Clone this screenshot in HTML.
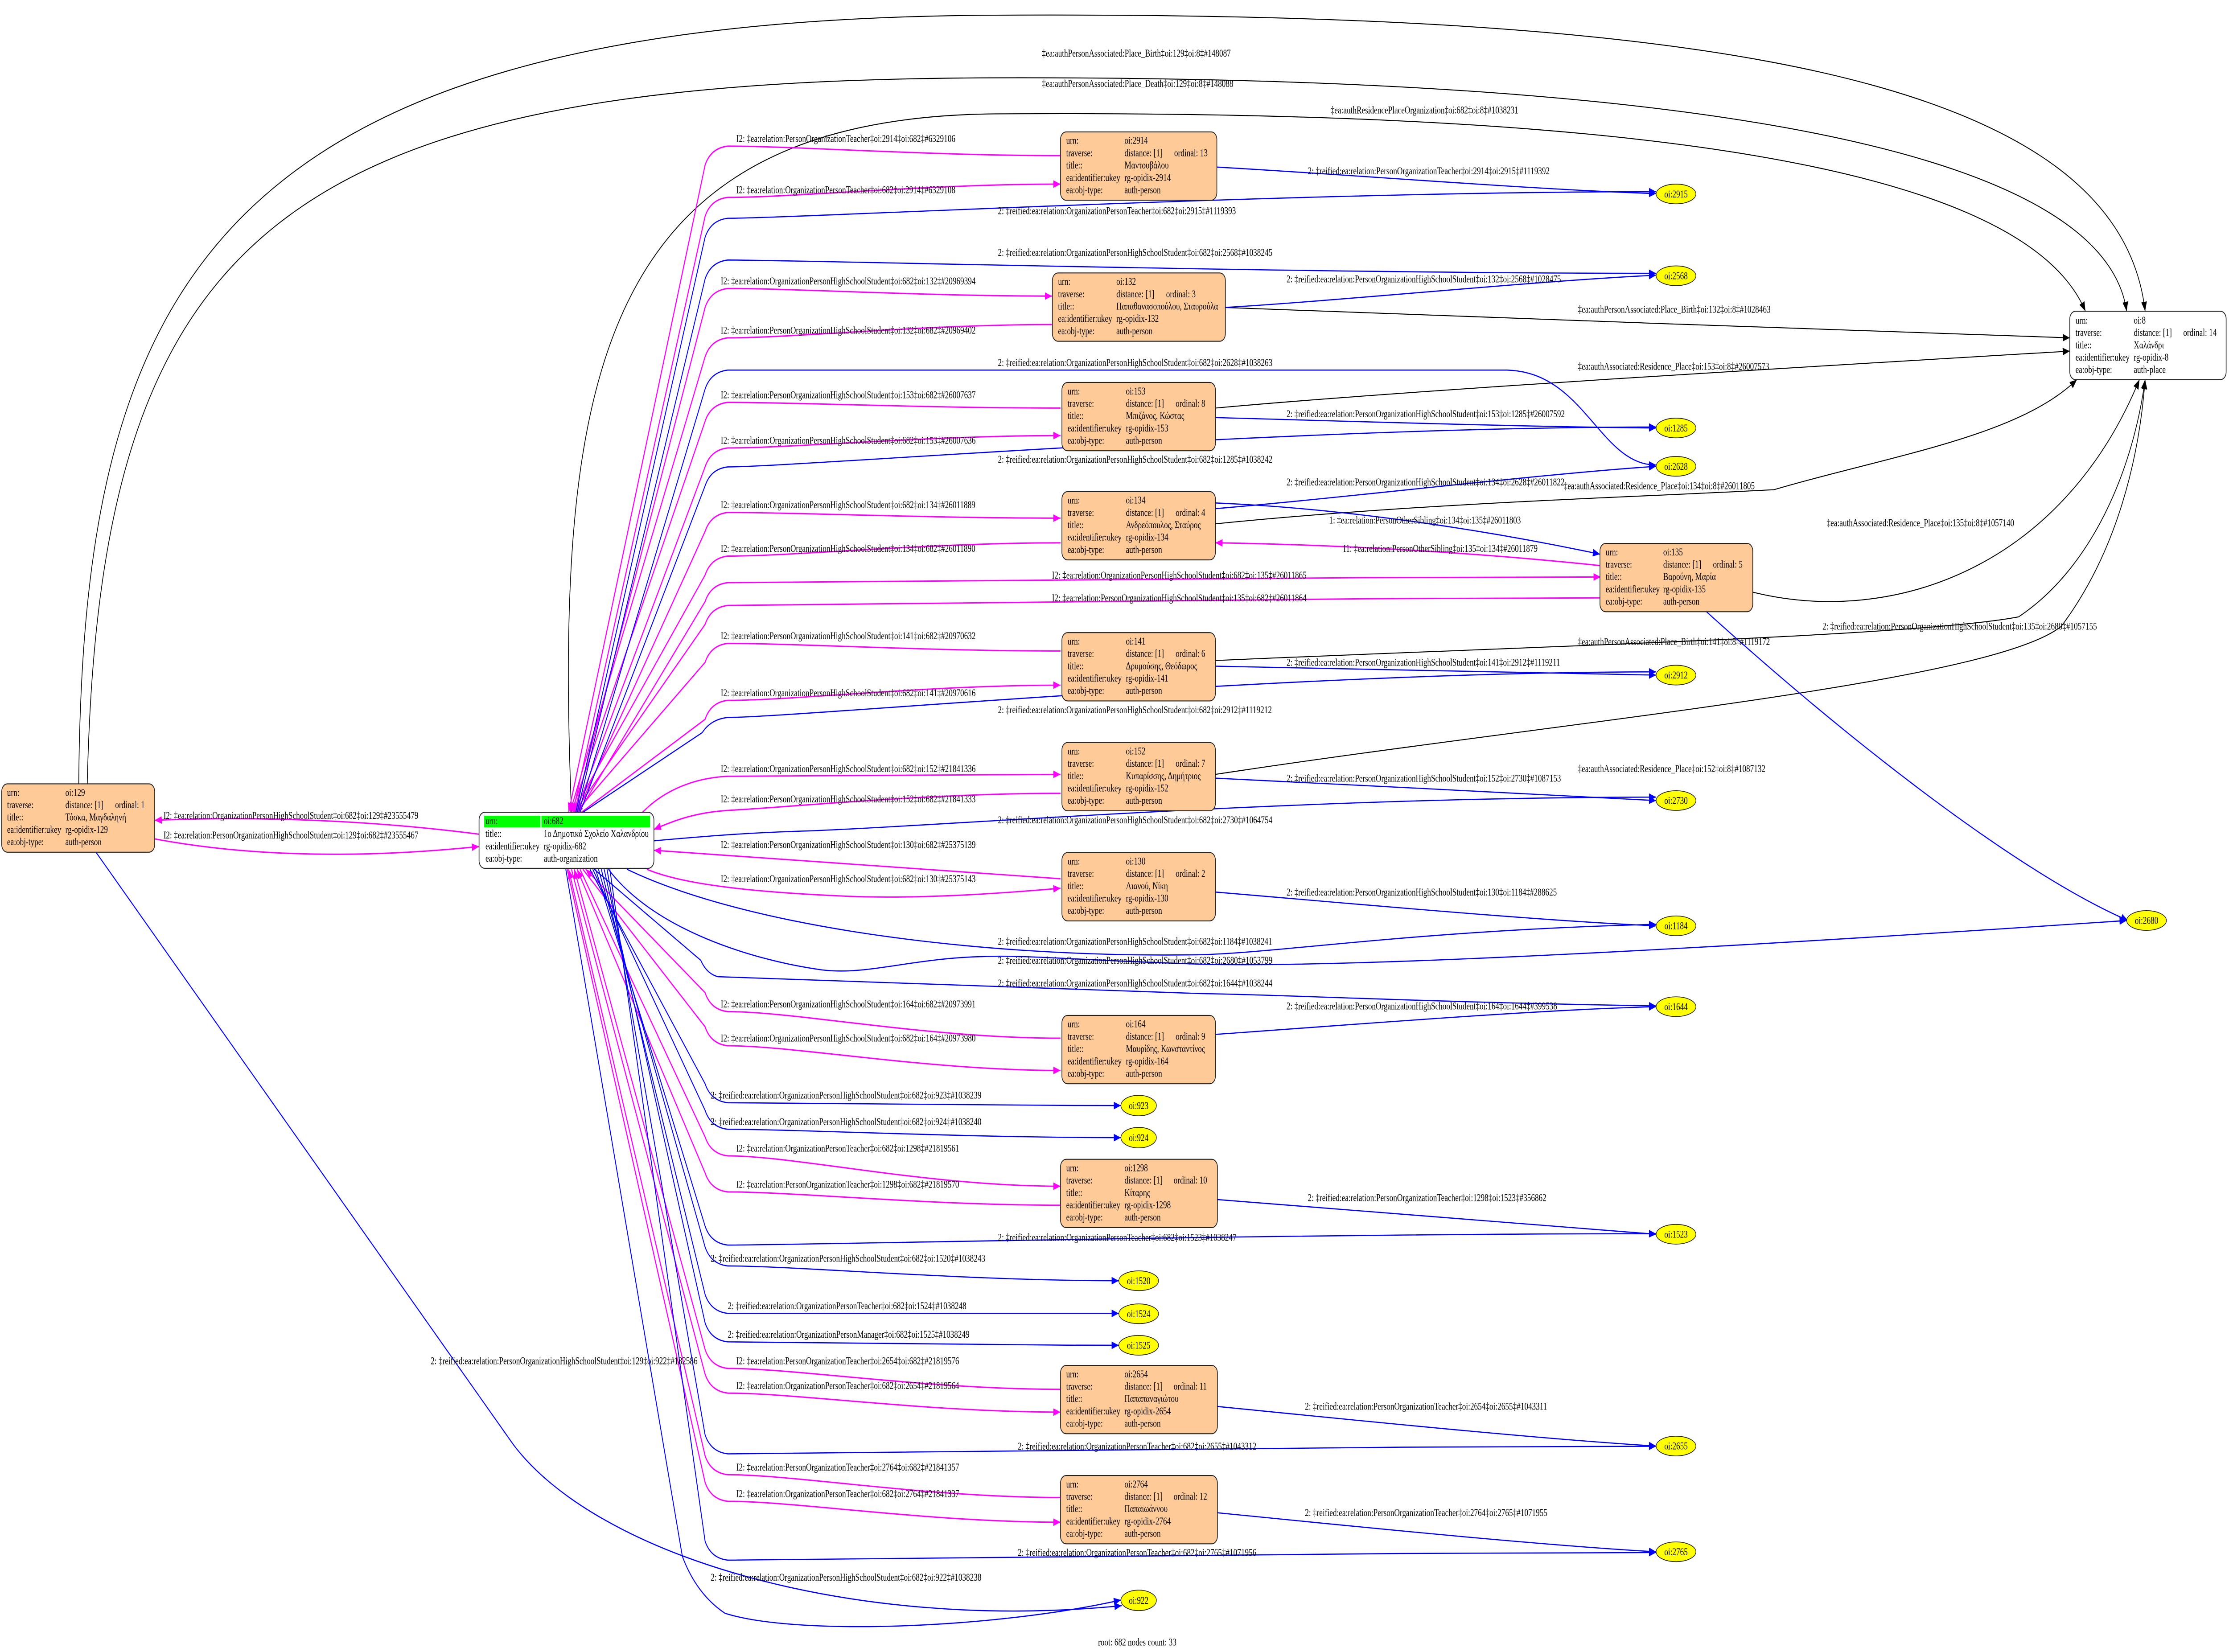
<!DOCTYPE html>
<html><head><meta charset="utf-8"><style>
html,body{margin:0;padding:0;background:#fff;overflow:hidden;width:100vw;height:100vh}
svg{display:block;width:100vw;height:100vh}
text{font-family:"Liberation Serif","DejaVu Serif",serif;font-size:5.4px;fill:#000}
.n{fill:#fdca98;stroke:#222;stroke-width:0.5}
.w{fill:#fff;stroke:#222;stroke-width:0.5}
.e{fill:#ffff00;stroke:#222;stroke-width:0.4}
.p{fill:none;stroke:#ff00ff;stroke-width:0.7}
.b{fill:none;stroke:#0000ff;stroke-width:0.6}
.k{fill:none;stroke:#000;stroke-width:0.5}
.c{text-anchor:middle}
</style></head><body>
<svg viewBox="0 0 1568 870.4" preserveAspectRatio="none" xmlns="http://www.w3.org/2000/svg">
<defs>
<marker id="mp" markerUnits="userSpaceOnUse" markerWidth="6" markerHeight="4" refX="5" refY="2" orient="auto-start-reverse"><path d="M0,0L5,2L0,4z" fill="#ff00ff"/></marker>
<marker id="mb" markerUnits="userSpaceOnUse" markerWidth="6" markerHeight="4" refX="5" refY="2" orient="auto-start-reverse"><path d="M0,0L5,2L0,4z" fill="#0000ff"/></marker>
<marker id="mk" markerUnits="userSpaceOnUse" markerWidth="6" markerHeight="4" refX="5" refY="2" orient="auto-start-reverse"><path d="M0,0L5,2L0,4z" fill="#000"/></marker>
</defs>

<g class="k" marker-end="url(#mk)">
<path d="M55.4 413C58 150 150 10 700 8C1200 6 1490 40 1509 164"/>
<path d="M61.4 413C70 120 200 42 700 41C1200 40 1480 80 1496 164"/>
<path d="M402 428C390 200 420 62 700 60C1100 58 1420 80 1467 164"/>
<path d="M861 162C1000 165 1300 175 1456 178"/>
<path d="M855 215C1000 205 1300 192 1456 185"/>
<path d="M855 276C1000 265 1150 262 1248 258C1330 240 1420 230 1461 200"/>
<path d="M1233 312C1330 330 1450 300 1505 200"/>
<path d="M855 348C1100 340 1350 335 1420 325C1470 300 1500 250 1509 200"/>
<path d="M855 408C1100 380 1400 360 1450 330C1490 290 1505 240 1509 200"/>
</g>

<g class="p" marker-end="url(#mp)">
<path d="M746 82C652 82 560 77 512 77Q500 78 496 87L400 428"/>
<path d="M740 171C649 171 560 178 512 178Q500 179 496 188L401 428"/>
<path d="M746 215C652 215 560 212 512 212Q500 213 496 222L402 428"/>
<path d="M746 286C652 286 560 293 512 293Q500 294 496 303L403 428"/>
<path d="M1126 315C880 315 560 319 512 319Q500 320 496 329L404 428"/>
<path d="M746 343C652 343 560 339 512 339Q500 340 496 349L405 428"/>
<path d="M746 418C652 418 560 425 512 427C490 428 475 432 460 437"/>
<path d="M746 463L460 448"/>
<path d="M746 547C652 547 560 533 512 533Q500 532 496 523L412 458"/>
<path d="M746 635C652 635 560 628 512 628Q500 627 496 618L406 458"/>
<path d="M746 732C652 732 560 721 512 721Q500 720 496 711L404 458"/>
<path d="M746 789C652 789 560 777 512 777Q500 776 496 767L400 458"/>
<path d="M108.8 442C180 452 260 452 337 446"/>
<path d="M1125.5 298C1050 292 950 287 855 286"/>
</g>
<g class="p" marker-start="url(#mp)">
<path d="M746 97C652 97 560 104 512 104Q500 105 496 114L403 428"/>
<path d="M740 156C649 156 560 152 512 152Q500 153 496 162L404 428"/>
<path d="M746 229.5C652 229.5 560 236 512 236Q500 237 496 246L405 428"/>
<path d="M746 273C652 273 560 270 512 270Q500 271 496 280L406 428"/>
<path d="M1126 304C880 304 560 307 512 307Q500 308 496 317L407 428"/>
<path d="M746 361C652 361 560 369 512 369Q500 370 496 379L409 428"/>
<path d="M746 408C652 408 560 409 512 409C485 410 465 418 452 428"/>
<path d="M746 468C700 471 640 474 590 472C530 470 480 466 455 458"/>
<path d="M746 564C652 564 560 551 512 551Q500 550 496 541L410 458"/>
<path d="M746 625C652 625 560 609 512 609Q500 608 496 599L408 458"/>
<path d="M746 744C652 744 560 734 512 734Q500 733 496 724L402 458"/>
<path d="M746 802C652 802 560 791 512 791Q500 790 496 781L399 458"/>
<path d="M108.8 432.2C180 430 260 432 337.7 439.6"/>
</g>

<g class="b" marker-start="url(#mb)">
<path d="M1165 101C904 101 560 115 512 115Q500 116 496 125L405 428"/>
<path d="M1165 144C904 144 560 137 512 137Q500 138 496 147L406 428"/>
<path d="M1165 245C1125 245 1115 196 1060 195C900 195 560 195 512 195Q500 196 496 205L407 428"/>
<path d="M1165 225C904 225 560 246 512 246Q500 247 496 256L408 428"/>
<path d="M1165 354C904 354 560 378 512 378Q500 379 494 386L410 428"/>
<path d="M1165 420C904 420 650 436 560 438C520 439 490 441 460 443"/>
<path d="M1165 487C1000 490 900 502 845 503C700 505 530 490 441 458"/>
<path d="M1496 485C1200 500 950 510 845 508C760 506 720 503 691 504C640 505 610 514 578 511C530 506 460 490 428 458"/>
<path d="M1165 530C1000 528 900 524 845 523.5L505 514.6Q497 513 493 506L418 458"/>
<path d="M788.5 582.5C678 582.5 560 581 512 581Q500 580 496 571L415 458"/>
<path d="M788.5 599.4C678 599.4 560 595 512 595Q500 594 496 585L417 458"/>
<path d="M1165 650C904 650 560 656 512 656Q500 655 496 646L419 458"/>
<path d="M787 674.8C678 674.8 560 667 512 667Q500 666 496 657L421 458"/>
<path d="M787 692C678 692 560 692 512 692Q500 691 496 682L423 458"/>
<path d="M787 708.8C678 708.8 560 707 512 707Q500 706 496 697L425 458"/>
<path d="M1165 762C904 762 560 766 512 766Q500 765 496 756L427 458"/>
<path d="M1165 818C904 818 560 822 512 822Q500 821 496 812L429 458"/>
<path d="M788.5 843C700 858 560 862 510 850Q490 840 480 820L398 458"/>
</g>
<g class="b" marker-end="url(#mb)">
<path d="M855 88C950 92 1080 100 1165 102"/>
<path d="M862 162C950 158 1080 148 1165 145"/>
<path d="M855 220C950 222 1080 225 1165 225.5"/>
<path d="M855 268C950 262 1080 250 1165 245.7"/>
<path d="M855 351C950 352 1080 355 1165 355.7"/>
<path d="M855 410C950 413 1080 419 1165 421.8"/>
<path d="M855 470C950 476 1080 485 1165 487.8"/>
<path d="M855 545C950 540 1080 532 1165 530.4"/>
<path d="M856 632C950 637 1080 646 1165 650.3"/>
<path d="M856 741C950 748 1080 758 1165 761.9"/>
<path d="M856 797C950 804 1080 814 1165 817.6"/>
<path d="M1200 322C1300 390 1420 460 1497 485"/>
<path d="M855 265C950 268 1050 280 1125.5 292"/>
<path d="M67.5 449L361 761C420 820 600 860 789 846"/>
</g>

<g>
<text x="733" y="29.8">‡ea:authPersonAssociated:Place_Birth‡oi:129‡oi:8‡#148087</text>
<text x="733" y="45.8">‡ea:authPersonAssociated:Place_Death‡oi:129‡oi:8‡#148088</text>
<text x="936" y="59.8">‡ea:authResidencePlaceOrganization‡oi:682‡oi:8‡#1038231</text>
<text x="518" y="74.8">I2: ‡ea:relation:PersonOrganizationTeacher‡oi:2914‡oi:682‡#6329106</text>
<text x="920" y="91.8">2: ‡reified:ea:relation:PersonOrganizationTeacher‡oi:2914‡oi:2915‡#1119392</text>
<text x="518" y="101.8">I2: ‡ea:relation:OrganizationPersonTeacher‡oi:682‡oi:2914‡#6329108</text>
<text x="702" y="112.8">2: ‡reified:ea:relation:OrganizationPersonTeacher‡oi:682‡oi:2915‡#1119393</text>
<text x="702" y="134.8">2: ‡reified:ea:relation:OrganizationPersonHighSchoolStudent‡oi:682‡oi:2568‡#1038245</text>
<text x="905" y="148.8">2: ‡reified:ea:relation:PersonOrganizationHighSchoolStudent‡oi:132‡oi:2568‡#1028475</text>
<text x="507" y="149.8">I2: ‡ea:relation:OrganizationPersonHighSchoolStudent‡oi:682‡oi:132‡#20969394</text>
<text x="1110" y="164.8">‡ea:authPersonAssociated:Place_Birth‡oi:132‡oi:8‡#1028463</text>
<text x="507" y="175.8">I2: ‡ea:relation:PersonOrganizationHighSchoolStudent‡oi:132‡oi:682‡#20969402</text>
<text x="702" y="192.8">2: ‡reified:ea:relation:OrganizationPersonHighSchoolStudent‡oi:682‡oi:2628‡#1038263</text>
<text x="1110" y="194.8">‡ea:authAssociated:Residence_Place‡oi:153‡oi:8‡#26007573</text>
<text x="507" y="209.8">I2: ‡ea:relation:PersonOrganizationHighSchoolStudent‡oi:153‡oi:682‡#26007637</text>
<text x="905" y="219.8">2: ‡reified:ea:relation:PersonOrganizationHighSchoolStudent‡oi:153‡oi:1285‡#26007592</text>
<text x="507" y="233.8">I2: ‡ea:relation:OrganizationPersonHighSchoolStudent‡oi:682‡oi:153‡#26007636</text>
<text x="702" y="243.8">2: ‡reified:ea:relation:OrganizationPersonHighSchoolStudent‡oi:682‡oi:1285‡#1038242</text>
<text x="905" y="255.8">2: ‡reified:ea:relation:PersonOrganizationHighSchoolStudent‡oi:134‡oi:2628‡#26011822</text>
<text x="1100" y="257.8">‡ea:authAssociated:Residence_Place‡oi:134‡oi:8‡#26011805</text>
<text x="507" y="267.8">I2: ‡ea:relation:OrganizationPersonHighSchoolStudent‡oi:682‡oi:134‡#26011889</text>
<text x="935" y="275.8">1: ‡ea:relation:PersonOtherSibling‡oi:134‡oi:135‡#26011803</text>
<text x="1285" y="277.3">‡ea:authAssociated:Residence_Place‡oi:135‡oi:8‡#1057140</text>
<text x="507" y="290.8">I2: ‡ea:relation:PersonOrganizationHighSchoolStudent‡oi:134‡oi:682‡#26011890</text>
<text x="945" y="290.8">I1: ‡ea:relation:PersonOtherSibling‡oi:135‡oi:134‡#26011879</text>
<text x="740" y="304.8">I2: ‡ea:relation:OrganizationPersonHighSchoolStudent‡oi:682‡oi:135‡#26011865</text>
<text x="740" y="316.8">I2: ‡ea:relation:PersonOrganizationHighSchoolStudent‡oi:135‡oi:682‡#26011864</text>
<text x="1282" y="331.8">2: ‡reified:ea:relation:PersonOrganizationHighSchoolStudent‡oi:135‡oi:2680‡#1057155</text>
<text x="507" y="336.8">I2: ‡ea:relation:PersonOrganizationHighSchoolStudent‡oi:141‡oi:682‡#20970632</text>
<text x="1110" y="339.8">‡ea:authPersonAssociated:Place_Birth‡oi:141‡oi:8‡#1119172</text>
<text x="905" y="350.8">2: ‡reified:ea:relation:PersonOrganizationHighSchoolStudent‡oi:141‡oi:2912‡#1119211</text>
<text x="507" y="366.8">I2: ‡ea:relation:OrganizationPersonHighSchoolStudent‡oi:682‡oi:141‡#20970616</text>
<text x="702" y="375.8">2: ‡reified:ea:relation:OrganizationPersonHighSchoolStudent‡oi:682‡oi:2912‡#1119212</text>
<text x="507" y="406.8">I2: ‡ea:relation:OrganizationPersonHighSchoolStudent‡oi:682‡oi:152‡#21841336</text>
<text x="1110" y="406.8">‡ea:authAssociated:Residence_Place‡oi:152‡oi:8‡#1087132</text>
<text x="905" y="411.8">2: ‡reified:ea:relation:PersonOrganizationHighSchoolStudent‡oi:152‡oi:2730‡#1087153</text>
<text x="507" y="422.8">I2: ‡ea:relation:PersonOrganizationHighSchoolStudent‡oi:152‡oi:682‡#21841333</text>
<text x="115" y="431.4">I2: ‡ea:relation:OrganizationPersonHighSchoolStudent‡oi:682‡oi:129‡#23555479</text>
<text x="702" y="433.8">2: ‡reified:ea:relation:OrganizationPersonHighSchoolStudent‡oi:682‡oi:2730‡#1064754</text>
<text x="115" y="441.8">I2: ‡ea:relation:PersonOrganizationHighSchoolStudent‡oi:129‡oi:682‡#23555467</text>
<text x="507" y="446.8">I2: ‡ea:relation:PersonOrganizationHighSchoolStudent‡oi:130‡oi:682‡#25375139</text>
<text x="507" y="464.8">I2: ‡ea:relation:OrganizationPersonHighSchoolStudent‡oi:682‡oi:130‡#25375143</text>
<text x="905" y="471.8">2: ‡reified:ea:relation:PersonOrganizationHighSchoolStudent‡oi:130‡oi:1184‡#288625</text>
<text x="702" y="497.8">2: ‡reified:ea:relation:OrganizationPersonHighSchoolStudent‡oi:682‡oi:1184‡#1038241</text>
<text x="702" y="507.8">2: ‡reified:ea:relation:OrganizationPersonHighSchoolStudent‡oi:682‡oi:2680‡#1053799</text>
<text x="702" y="519.8">2: ‡reified:ea:relation:OrganizationPersonHighSchoolStudent‡oi:682‡oi:1644‡#1038244</text>
<text x="507" y="530.8">I2: ‡ea:relation:PersonOrganizationHighSchoolStudent‡oi:164‡oi:682‡#20973991</text>
<text x="905" y="531.8">2: ‡reified:ea:relation:PersonOrganizationHighSchoolStudent‡oi:164‡oi:1644‡#399538</text>
<text x="507" y="548.8">I2: ‡ea:relation:OrganizationPersonHighSchoolStudent‡oi:682‡oi:164‡#20973980</text>
<text x="500" y="578.8">2: ‡reified:ea:relation:OrganizationPersonHighSchoolStudent‡oi:682‡oi:923‡#1038239</text>
<text x="500" y="592.8">2: ‡reified:ea:relation:OrganizationPersonHighSchoolStudent‡oi:682‡oi:924‡#1038240</text>
<text x="518" y="606.8">I2: ‡ea:relation:OrganizationPersonTeacher‡oi:682‡oi:1298‡#21819561</text>
<text x="518" y="625.8">I2: ‡ea:relation:PersonOrganizationTeacher‡oi:1298‡oi:682‡#21819570</text>
<text x="920" y="632.8">2: ‡reified:ea:relation:PersonOrganizationTeacher‡oi:1298‡oi:1523‡#356862</text>
<text x="702" y="653.8">2: ‡reified:ea:relation:OrganizationPersonTeacher‡oi:682‡oi:1523‡#1038247</text>
<text x="500" y="664.8">2: ‡reified:ea:relation:OrganizationPersonHighSchoolStudent‡oi:682‡oi:1520‡#1038243</text>
<text x="512" y="689.8">2: ‡reified:ea:relation:OrganizationPersonTeacher‡oi:682‡oi:1524‡#1038248</text>
<text x="512" y="704.8">2: ‡reified:ea:relation:OrganizationPersonManager‡oi:682‡oi:1525‡#1038249</text>
<text x="303" y="718.8">2: ‡reified:ea:relation:PersonOrganizationHighSchoolStudent‡oi:129‡oi:922‡#182586</text>
<text x="518" y="718.8">I2: ‡ea:relation:PersonOrganizationTeacher‡oi:2654‡oi:682‡#21819576</text>
<text x="518" y="731.8">I2: ‡ea:relation:OrganizationPersonTeacher‡oi:682‡oi:2654‡#21819564</text>
<text x="918" y="742.8">2: ‡reified:ea:relation:PersonOrganizationTeacher‡oi:2654‡oi:2655‡#1043311</text>
<text x="716" y="763.8">2: ‡reified:ea:relation:OrganizationPersonTeacher‡oi:682‡oi:2655‡#1043312</text>
<text x="518" y="774.8">I2: ‡ea:relation:PersonOrganizationTeacher‡oi:2764‡oi:682‡#21841357</text>
<text x="518" y="788.8">I2: ‡ea:relation:OrganizationPersonTeacher‡oi:682‡oi:2764‡#21841337</text>
<text x="918" y="798.8">2: ‡reified:ea:relation:PersonOrganizationTeacher‡oi:2764‡oi:2765‡#1071955</text>
<text x="716" y="819.8">2: ‡reified:ea:relation:OrganizationPersonTeacher‡oi:682‡oi:2765‡#1071956</text>
<text x="500" y="832.8">2: ‡reified:ea:relation:OrganizationPersonHighSchoolStudent‡oi:682‡oi:922‡#1038238</text>
<text x="800" y="867" class="c">root: 682 nodes count: 33</text>
</g>

<g>
<ellipse class="e" cx="1179" cy="102.2" rx="14" ry="5.2"/><text class="c" x="1179" y="104">oi:2915</text>
<ellipse class="e" cx="1179" cy="145.3" rx="14" ry="5.2"/><text class="c" x="1179" y="147.1">oi:2568</text>
<ellipse class="e" cx="1179" cy="225.5" rx="14" ry="5.2"/><text class="c" x="1179" y="227.3">oi:1285</text>
<ellipse class="e" cx="1179" cy="245.7" rx="14" ry="5.2"/><text class="c" x="1179" y="247.5">oi:2628</text>
<ellipse class="e" cx="1179" cy="355.7" rx="14" ry="5.2"/><text class="c" x="1179" y="357.5">oi:2912</text>
<ellipse class="e" cx="1179" cy="421.8" rx="14" ry="5.2"/><text class="c" x="1179" y="423.6">oi:2730</text>
<ellipse class="e" cx="1179" cy="487.8" rx="14" ry="5.2"/><text class="c" x="1179" y="489.6">oi:1184</text>
<ellipse class="e" cx="1510" cy="485" rx="14" ry="5.2"/><text class="c" x="1510" y="486.8">oi:2680</text>
<ellipse class="e" cx="1179" cy="530.4" rx="14" ry="5.2"/><text class="c" x="1179" y="532.2">oi:1644</text>
<ellipse class="e" cx="801" cy="582.5" rx="12.5" ry="5.4"/><text class="c" x="801" y="584.3">oi:923</text>
<ellipse class="e" cx="801" cy="599.4" rx="12.5" ry="5.4"/><text class="c" x="801" y="601.2">oi:924</text>
<ellipse class="e" cx="1179" cy="650.3" rx="14" ry="5.2"/><text class="c" x="1179" y="652.1">oi:1523</text>
<ellipse class="e" cx="801" cy="674.8" rx="14" ry="5.2"/><text class="c" x="801" y="676.6">oi:1520</text>
<ellipse class="e" cx="801" cy="692.2" rx="14" ry="5.2"/><text class="c" x="801" y="694">oi:1524</text>
<ellipse class="e" cx="801" cy="708.8" rx="14" ry="5.2"/><text class="c" x="801" y="710.6">oi:1525</text>
<ellipse class="e" cx="1179" cy="761.9" rx="14" ry="5.2"/><text class="c" x="1179" y="763.7">oi:2655</text>
<ellipse class="e" cx="1179" cy="817.6" rx="14" ry="5.2"/><text class="c" x="1179" y="819.4">oi:2765</text>
<ellipse class="e" cx="801" cy="843.2" rx="12.5" ry="5.4"/><text class="c" x="801" y="845">oi:922</text>
</g>

<g>
<rect class="w" x="337" y="428" width="123" height="29.5" rx="4"/>
<rect x="340.6" y="429.8" width="39.6" height="6.2" fill="#00ff00"/>
<rect x="380.9" y="429.8" width="76.4" height="6.2" fill="#00ff00"/>
<text x="341.5" y="434.3">urn:</text><text x="382.5" y="434.3">oi:682</text>
<text x="341.5" y="440.9">title::</text><text x="382.5" y="440.9">1ο Δημοτικό Σχολείο Χαλανδρίου</text>
<text x="341.5" y="447.5">ea:identifier:ukey</text><text x="382.5" y="447.5">rg-opidix-682</text>
<text x="341.5" y="454">ea:obj-type:</text><text x="382.5" y="454">auth-organization</text>
</g>

<g>
<rect class="w" x="1456" y="164" width="110" height="36" rx="4"/>
<text x="1460" y="170.5">urn:</text><text x="1501" y="170.5">oi:8</text>
<text x="1460" y="177">traverse:</text><text x="1501" y="177">distance: [1]</text><text x="1535.8" y="177">ordinal: 14</text>
<text x="1460" y="183.5">title::</text><text x="1501" y="183.5">Χαλάνδρι</text>
<text x="1460" y="190">ea:identifier:ukey</text><text x="1501" y="190">rg-opidix-8</text>
<text x="1460" y="196.5">ea:obj-type:</text><text x="1501" y="196.5">auth-place</text>
</g>

<g>
<rect class="n" x="1.2" y="413" width="107.6" height="36" rx="4"/>
<text x="5" y="419.3">urn:</text><text x="46" y="419.3">oi:129</text>
<text x="5" y="425.8">traverse:</text><text x="46" y="425.8">distance: [1]</text><text x="81" y="425.8">ordinal: 1</text>
<text x="5" y="432.3">title::</text><text x="46" y="432.3">Τόσκα, Μαγδαληνή</text>
<text x="5" y="438.8">ea:identifier:ukey</text><text x="46" y="438.8">rg-opidix-129</text>
<text x="5" y="445.3">ea:obj-type:</text><text x="46" y="445.3">auth-person</text>
</g>
<g>
<rect class="n" x="746" y="69.5" width="110" height="36" rx="4"/>
<text x="750" y="75.8">urn:</text><text x="791" y="75.8">oi:2914</text>
<text x="750" y="82.3">traverse:</text><text x="791" y="82.3">distance: [1]</text><text x="826" y="82.3">ordinal: 13</text>
<text x="750" y="88.8">title::</text><text x="791" y="88.8">Μαντουβάλου</text>
<text x="750" y="95.3">ea:identifier:ukey</text><text x="791" y="95.3">rg-opidix-2914</text>
<text x="750" y="101.8">ea:obj-type:</text><text x="791" y="101.8">auth-person</text>
</g>
<g>
<rect class="n" x="740.3" y="143.8" width="121.7" height="36" rx="4"/>
<text x="744.3" y="150.1">urn:</text><text x="785.3" y="150.1">oi:132</text>
<text x="744.3" y="156.6">traverse:</text><text x="785.3" y="156.6">distance: [1]</text><text x="820.3" y="156.6">ordinal: 3</text>
<text x="744.3" y="163.1">title::</text><text x="785.3" y="163.1">Παπαθανασοπούλου, Σταυρούλα</text>
<text x="744.3" y="169.6">ea:identifier:ukey</text><text x="785.3" y="169.6">rg-opidix-132</text>
<text x="744.3" y="176.1">ea:obj-type:</text><text x="785.3" y="176.1">auth-person</text>
</g>
<g>
<rect class="n" x="747" y="201.5" width="108" height="36" rx="4"/>
<text x="751" y="207.8">urn:</text><text x="792" y="207.8">oi:153</text>
<text x="751" y="214.3">traverse:</text><text x="792" y="214.3">distance: [1]</text><text x="827" y="214.3">ordinal: 8</text>
<text x="751" y="220.8">title::</text><text x="792" y="220.8">Μπιζάνος, Κώστας</text>
<text x="751" y="227.3">ea:identifier:ukey</text><text x="792" y="227.3">rg-opidix-153</text>
<text x="751" y="233.8">ea:obj-type:</text><text x="792" y="233.8">auth-person</text>
</g>
<g>
<rect class="n" x="747" y="259" width="108" height="36" rx="4"/>
<text x="751" y="265.3">urn:</text><text x="792" y="265.3">oi:134</text>
<text x="751" y="271.8">traverse:</text><text x="792" y="271.8">distance: [1]</text><text x="827" y="271.8">ordinal: 4</text>
<text x="751" y="278.3">title::</text><text x="792" y="278.3">Ανδρεόπουλος, Σταύρος</text>
<text x="751" y="284.8">ea:identifier:ukey</text><text x="792" y="284.8">rg-opidix-134</text>
<text x="751" y="291.3">ea:obj-type:</text><text x="792" y="291.3">auth-person</text>
</g>
<g>
<rect class="n" x="1125.5" y="286.3" width="107.5" height="36" rx="4"/>
<text x="1129.5" y="292.6">urn:</text><text x="1170" y="292.6">oi:135</text>
<text x="1129.5" y="299.1">traverse:</text><text x="1170" y="299.1">distance: [1]</text><text x="1205" y="299.1">ordinal: 5</text>
<text x="1129.5" y="305.6">title::</text><text x="1170" y="305.6">Βαρούνη, Μαρία</text>
<text x="1129.5" y="312.1">ea:identifier:ukey</text><text x="1170" y="312.1">rg-opidix-135</text>
<text x="1129.5" y="318.6">ea:obj-type:</text><text x="1170" y="318.6">auth-person</text>
</g>
<g>
<rect class="n" x="747" y="333.3" width="108" height="36" rx="4"/>
<text x="751" y="339.6">urn:</text><text x="792" y="339.6">oi:141</text>
<text x="751" y="346.1">traverse:</text><text x="792" y="346.1">distance: [1]</text><text x="827" y="346.1">ordinal: 6</text>
<text x="751" y="352.6">title::</text><text x="792" y="352.6">Δρυμούσης, Θεόδωρος</text>
<text x="751" y="359.1">ea:identifier:ukey</text><text x="792" y="359.1">rg-opidix-141</text>
<text x="751" y="365.6">ea:obj-type:</text><text x="792" y="365.6">auth-person</text>
</g>
<g>
<rect class="n" x="747" y="391.2" width="108" height="36" rx="4"/>
<text x="751" y="397.5">urn:</text><text x="792" y="397.5">oi:152</text>
<text x="751" y="404">traverse:</text><text x="792" y="404">distance: [1]</text><text x="827" y="404">ordinal: 7</text>
<text x="751" y="410.5">title::</text><text x="792" y="410.5">Κυπαρίσσης, Δημήτριος</text>
<text x="751" y="417">ea:identifier:ukey</text><text x="792" y="417">rg-opidix-152</text>
<text x="751" y="423.5">ea:obj-type:</text><text x="792" y="423.5">auth-person</text>
</g>
<g>
<rect class="n" x="747" y="449.2" width="108" height="36" rx="4"/>
<text x="751" y="455.5">urn:</text><text x="792" y="455.5">oi:130</text>
<text x="751" y="462">traverse:</text><text x="792" y="462">distance: [1]</text><text x="827" y="462">ordinal: 2</text>
<text x="751" y="468.5">title::</text><text x="792" y="468.5">Λιανού, Νίκη</text>
<text x="751" y="475">ea:identifier:ukey</text><text x="792" y="475">rg-opidix-130</text>
<text x="751" y="481.5">ea:obj-type:</text><text x="792" y="481.5">auth-person</text>
</g>
<g>
<rect class="n" x="747" y="535" width="108" height="36" rx="4"/>
<text x="751" y="541.3">urn:</text><text x="792" y="541.3">oi:164</text>
<text x="751" y="547.8">traverse:</text><text x="792" y="547.8">distance: [1]</text><text x="827" y="547.8">ordinal: 9</text>
<text x="751" y="554.3">title::</text><text x="792" y="554.3">Μαυρίδης, Κωνσταντίνος</text>
<text x="751" y="560.8">ea:identifier:ukey</text><text x="792" y="560.8">rg-opidix-164</text>
<text x="751" y="567.3">ea:obj-type:</text><text x="792" y="567.3">auth-person</text>
</g>
<g>
<rect class="n" x="746" y="610.8" width="110.4" height="36" rx="4"/>
<text x="750" y="617.1">urn:</text><text x="791" y="617.1">oi:1298</text>
<text x="750" y="623.6">traverse:</text><text x="791" y="623.6">distance: [1]</text><text x="825.6" y="623.6">ordinal: 10</text>
<text x="750" y="630.1">title::</text><text x="791" y="630.1">Κίταρης</text>
<text x="750" y="636.6">ea:identifier:ukey</text><text x="791" y="636.6">rg-opidix-1298</text>
<text x="750" y="643.1">ea:obj-type:</text><text x="791" y="643.1">auth-person</text>
</g>
<g>
<rect class="n" x="746" y="719.4" width="110.4" height="36" rx="4"/>
<text x="750" y="725.7">urn:</text><text x="791" y="725.7">oi:2654</text>
<text x="750" y="732.2">traverse:</text><text x="791" y="732.2">distance: [1]</text><text x="825.6" y="732.2">ordinal: 11</text>
<text x="750" y="738.7">title::</text><text x="791" y="738.7">Παπαπαναγιώτου</text>
<text x="750" y="745.2">ea:identifier:ukey</text><text x="791" y="745.2">rg-opidix-2654</text>
<text x="750" y="751.7">ea:obj-type:</text><text x="791" y="751.7">auth-person</text>
</g>
<g>
<rect class="n" x="746" y="777.4" width="110.4" height="36" rx="4"/>
<text x="750" y="783.7">urn:</text><text x="791" y="783.7">oi:2764</text>
<text x="750" y="790.2">traverse:</text><text x="791" y="790.2">distance: [1]</text><text x="825.6" y="790.2">ordinal: 12</text>
<text x="750" y="796.7">title::</text><text x="791" y="796.7">Παπαιωάννου</text>
<text x="750" y="803.2">ea:identifier:ukey</text><text x="791" y="803.2">rg-opidix-2764</text>
<text x="750" y="809.7">ea:obj-type:</text><text x="791" y="809.7">auth-person</text>
</g>
</svg>
</body></html>
